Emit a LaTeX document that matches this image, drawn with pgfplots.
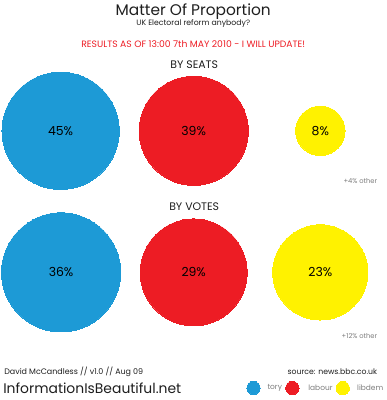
\documentclass[border=0pt]{standalone}
\usepackage{pgfplots}
\pgfplotsset{compat=1.18}
\usepackage{pgfplotstable}
\usepackage{fontspec}
\setmainfont{Poppins}
\definecolor{tory}{RGB}{29,154,214}
\definecolor{labour}{RGB}{237,28,36}
\definecolor{libdem}{RGB}{255,242,0}
\definecolor{ink}{RGB}{30,30,30}
\definecolor{muted}{RGB}{125,125,125}
\definecolor{alert}{RGB}{237,28,36}

% x, y in picture pixels (y from the top); v = share in %; k = size scale of the row
\pgfplotstableread{
x y v k
59 130 45 8.8
59.5 272 36 10
}\torytab
\pgfplotstableread{
x y v k
192.5 130 39 8.8
192.5 272 29 10
}\labourtab
\pgfplotstableread{
x y v k
319.5 130 8 8.8
319.5 272 23 10
}\libdemtab

\pgfplotsset{
bubble/.style={
  color=#1, forget plot,
  scatter, only marks, mark=*,
  point meta=explicit,
  visualization depends on={\thisrow{k}*sqrt(\thisrow{v}) \as \rad},
  scatter/use mapped color={draw=#1, fill=#1, line width=0pt},
  scatter/@pre marker code/.append style={/tikz/mark size=\rad},
},
share label/.style={
  forget plot, only marks, mark=none,
  point meta=explicit,
  nodes near coords={\pgfmathprintnumber{\pgfplotspointmeta}\%},
  nodes near coords align=center,
  every node near coord/.append style={anchor=center, inner sep=0pt,
    font=\fontsize{12.5}{12.5}\selectfont, text=black},
},
}

\begin{document}
\begin{tikzpicture}
\begin{axis}[
  x=1bp, y=1bp, y dir=reverse,
  xmin=0, xmax=379, ymin=0, ymax=400,
  scale only axis, hide axis, clip=false,
  /pgf/number format/assume math mode=true,
  every node/.append style={inner sep=0pt},
]
\path (axis cs:0,0) rectangle (axis cs:379,400);

\addplot[bubble=tory] table[x=x, y=y, meta=v] {\torytab};
\addplot[bubble=labour] table[x=x, y=y, meta=v] {\labourtab};
\addplot[bubble=libdem] table[x=x, y=y, meta=v] {\libdemtab};

\addplot[share label] table[x=x, y=y, meta=v] {\torytab};
\addplot[share label] table[x=x, y=y, meta=v] {\labourtab};
\addplot[share label] table[x=x, y=y, meta=v] {\libdemtab};

% legend dots
\addplot[only marks, mark=*, mark size=6.7, color=tory, mark options={draw=tory, fill=tory, line width=0pt}, forget plot] coordinates {(252.5,388)};
\addplot[only marks, mark=*, mark size=6.7, color=labour, mark options={draw=labour, fill=labour, line width=0pt}, forget plot] coordinates {(291.5,388)};
\addplot[only marks, mark=*, mark size=6.7, color=libdem, mark options={draw=libdem, fill=libdem, line width=0pt}, forget plot] coordinates {(342,388)};

\node[text=ink, font=\fontsize{15.5}{15.5}\selectfont] at (axis cs:192,10) {Matter Of Proportion};
\node[text=ink, font=\fontsize{7.8}{7.8}\selectfont] at (axis cs:192,22.5) {UK Electoral reform anybody?};
\node[text=alert, font=\fontsize{9.3}{9.3}\selectfont] at (axis cs:192,43) {RESULTS AS OF 13:00 7th MAY 2010 - I WILL UPDATE!};
\node[text=ink, font=\fontsize{11}{11}\selectfont] at (axis cs:193,64) {BY SEATS};
\node[text=ink, font=\fontsize{11}{11}\selectfont] at (axis cs:193,206) {BY VOTES};
\node[text=muted, font=\fontsize{6.8}{6.8}\selectfont, anchor=east] at (axis cs:380,180) {+4\% other};
\node[text=muted, font=\fontsize{6.8}{6.8}\selectfont, anchor=east] at (axis cs:380,336) {+12\% other};
\node[text=ink, font=\fontsize{8}{8}\selectfont, anchor=west] at (axis cs:-1,372) {David McCandless // v1.0 // Aug 09};
\node[text=ink, font=\fontsize{14}{14}\selectfont, anchor=west] at (axis cs:-2,388) {InformationIsBeautiful.net};
\node[text=ink, font=\fontsize{7.8}{7.8}\selectfont, anchor=east] at (axis cs:380,372) {source: news.bbc.co.uk};
\node[text=muted, font=\fontsize{7.5}{7.5}\selectfont, anchor=west] at (axis cs:263,388) {tory};
\node[text=muted, font=\fontsize{7.5}{7.5}\selectfont, anchor=west] at (axis cs:304,388) {labour};
\node[text=muted, font=\fontsize{7.5}{7.5}\selectfont, anchor=west] at (axis cs:353,388) {libdem};
\end{axis}
\end{tikzpicture}
\end{document}
